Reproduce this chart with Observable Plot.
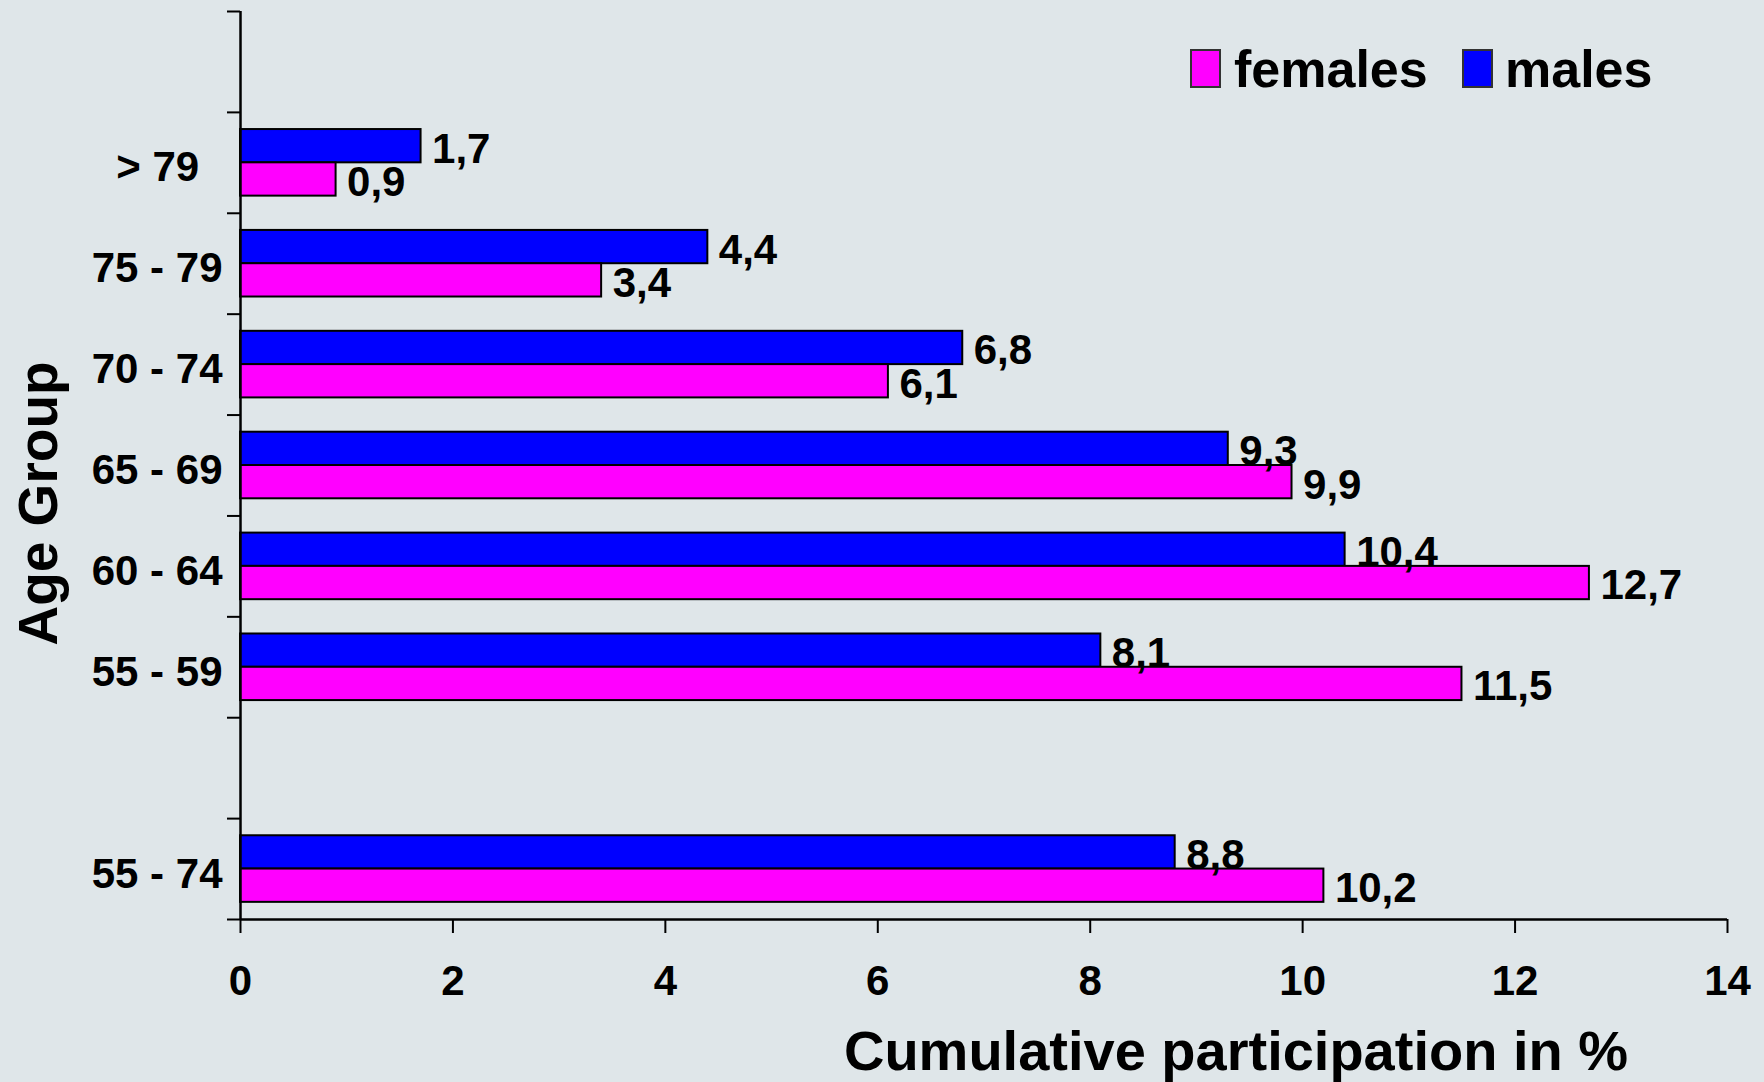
<!DOCTYPE html>
<html>
<head>
<meta charset="utf-8">
<script src="https://cdn.jsdelivr.net/npm/d3@7"></script>
<script src="https://cdn.jsdelivr.net/npm/@observablehq/plot@0.6"></script>
<style>
  html, body { margin: 0; padding: 0; background: #dfe6e9; }
  #wrap { position: relative; width: 1764px; height: 1082px; overflow: hidden; }
  #wrap svg text { font-weight: bold; }
  .sw { position: absolute; box-sizing: border-box; border: 2px solid #333; }
  .lt { position: absolute; font-family: 'Liberation Sans', Arial, sans-serif; font-weight: bold; font-size: 52px; line-height: 1; color: #000; }
</style>
</head>
<body>
<div id="wrap"></div>
<script>
// ---- data ----
const ageGroups = ["> 79", "75 - 79", "70 - 74", "65 - 69", "60 - 64", "55 - 59", "55 - 74"];
const males   = [1.7, 4.4, 6.8, 9.3, 10.4, 8.1, 8.8];
const females = [0.9, 3.4, 6.1, 9.9, 12.7, 11.5, 10.2];
// row layout of the category axis (empty slots are blank rows)
const rows = ["", "> 79", "75 - 79", "70 - 74", "65 - 69", "60 - 64", "55 - 59", "", "55 - 74"];
const xTicks = [0, 2, 4, 6, 8, 10, 12, 14];
const seriesNames = ["females", "males"];
const colors = {females: "#ff00ff", males: "#0000ff"};

const maleData = ageGroups.map((g, i) => ({group: g, value: males[i], row: rows.indexOf(g)}));
const femaleData = ageGroups.map((g, i) => ({group: g, value: females[i], row: rows.indexOf(g)}));
const fmt = d => d.value.toFixed(1).replace(".", ",");

const font = "'Liberation Sans', Arial, sans-serif";

const chart = Plot.plot({
  width: 1764,
  height: 1082,
  marginTop: 11,
  marginBottom: 163,
  marginLeft: 240,
  marginRight: 37,
  style: {background: "#dfe6e9", fontFamily: font, color: "#000", overflow: "visible"},
  x: {domain: [0, 14]},
  y: {domain: [rows.length, 0]},
  marks: [
    Plot.rectX(maleData, {x: "value", y1: d => d.row + 0.17, y2: d => d.row + 0.5, fill: colors.males, stroke: "#000", strokeWidth: 2}),
    Plot.rectX(femaleData, {x: "value", y1: d => d.row + 0.5, y2: d => d.row + 0.83, fill: colors.females, stroke: "#000", strokeWidth: 2}),
    Plot.text(maleData, {x: "value", y: d => d.row + 0.335, text: fmt, textAnchor: "start", dx: 11, dy: 3, fontSize: 42, fontWeight: "bold", fill: "#000"}),
    Plot.text(femaleData, {x: "value", y: d => d.row + 0.665, text: fmt, textAnchor: "start", dx: 11, dy: 3, fontSize: 42, fontWeight: "bold", fill: "#000"}),
    Plot.axisX({ticks: xTicks, tickSize: 14, tickPadding: 32, fontSize: 42, label: null, strokeWidth: 2}),
    Plot.axisY({ticks: d3.range(rows.length + 1), tickSize: 13, tickFormat: () => "", label: null, strokeWidth: 2}),
    Plot.axisY({ticks: d3.range(rows.length).map(i => i + 0.5), tickSize: 0, tickPadding: 18, dy: 5, fontSize: 42,
      tickFormat: t => { const l = rows[Math.floor(t)]; return l === "> 79" ? l + "\u00a0\u00a0" : l; }, label: null}),
    Plot.ruleX([0], {stroke: "#000", strokeWidth: 2.5}),
    Plot.ruleY([rows.length], {stroke: "#000", strokeWidth: 2.5}),
    Plot.text(["Cumulative participation in %"], {frameAnchor: "bottom", text: d => d, lineAnchor: "top", dx: 252, dy: 111, fontSize: 56, fontWeight: "bold", fill: "#000"}),
    Plot.text(["Age Group"], {frameAnchor: "left", text: d => d, rotate: -90, textAnchor: "middle", lineAnchor: "top", dx: -223, dy: 38, fontSize: 55, fontWeight: "bold", fill: "#000"})
  ]
});

const wrap = document.getElementById("wrap");
wrap.appendChild(chart);

// legend (inside the plot area, top right)
const legendPos = {females: {sw: 1190, tx: 1234}, males: {sw: 1462, tx: 1505}};
for (const name of seriesNames) {
  const sw = document.createElement("div");
  sw.className = "sw";
  sw.style.left = legendPos[name].sw + "px";
  sw.style.top = "49px";
  sw.style.width = "31px";
  sw.style.height = "39px";
  sw.style.background = colors[name];
  wrap.appendChild(sw);
  const t = document.createElement("div");
  t.className = "lt";
  t.textContent = name;
  t.style.left = legendPos[name].tx + "px";
  t.style.top = "43px";
  wrap.appendChild(t);
}
</script>
</body>
</html>
